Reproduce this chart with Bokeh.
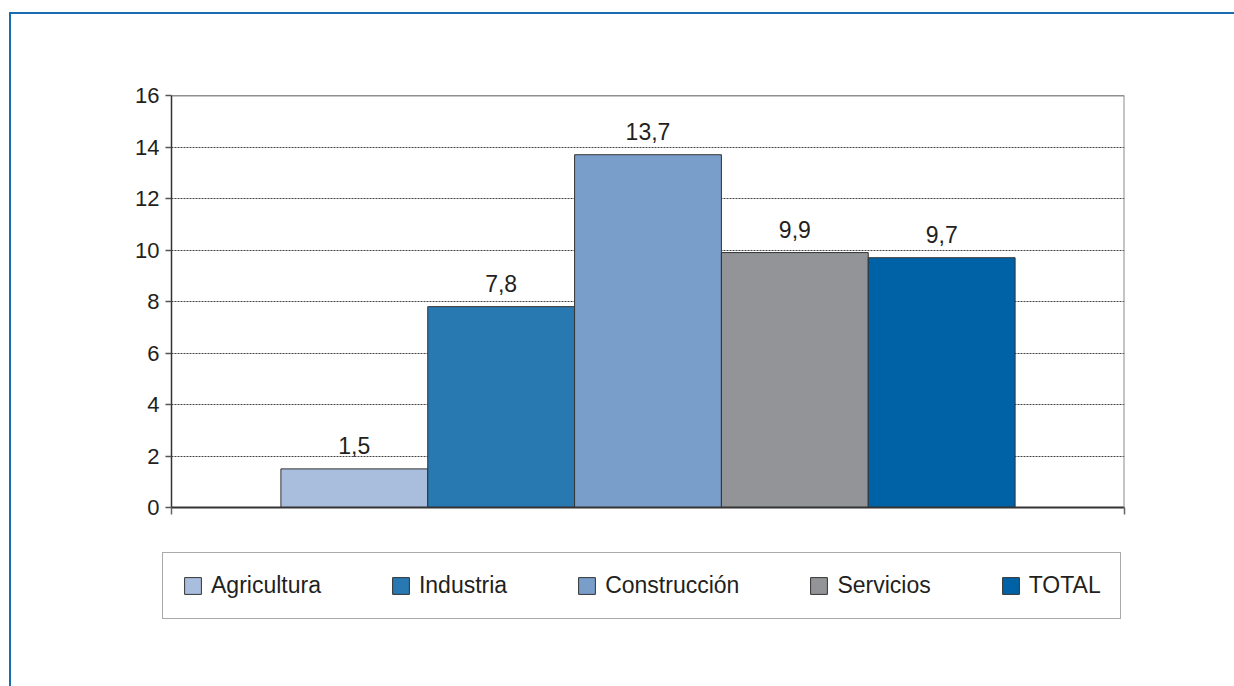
from bokeh.plotting import figure
from bokeh.layouts import column
from bokeh.models import (ColumnDataSource, Range1d, FixedTicker, Span, Legend, LegendItem)
from bokeh.core.properties import value
from bokeh.embed import file_html
from bokeh.resources import INLINE

# ---- data ----
categories = ["Agricultura", "Industria", "Construcción", "Servicios", "TOTAL"]
values = [1.5, 7.8, 13.7, 9.9, 9.7]
colors = ["#a9bedd", "#2878b1", "#789ec9", "#929497", "#0062a6"]
y_ticks = [0, 2, 4, 6, 8, 10, 12, 14, 16]

FONT = "Liberation Sans"
TXT = "#231f20"
BLUE = "#1a6cb0"

xs = list(range(len(categories)))
labels = [f"{v:.1f}".replace(".", ",") for v in values]

x_lo, x_hi = -1.245, len(categories) - 1 + 1.245

# ---------------- main chart ----------------
p = figure(frame_width=953, frame_height=412,
           min_border_left=171, min_border_right=110,
           min_border_top=95, min_border_bottom=33,
           x_range=Range1d(x_lo, x_hi), y_range=Range1d(0, 16),
           output_backend="svg", toolbar_location=None,
           background_fill_color="white", border_fill_color=None)
p.outline_line_color = None

p.yaxis.ticker = FixedTicker(ticks=y_ticks)
p.yaxis.major_tick_out = 6
p.yaxis.major_tick_in = 0
p.yaxis.minor_tick_line_color = None
p.yaxis.major_label_standoff = 6
p.yaxis.axis_line_color = "#333333"
p.yaxis.axis_line_width = 1.5
p.yaxis.major_tick_line_color = "#555555"
p.yaxis.major_tick_line_width = 1.5
p.yaxis.major_label_text_font = FONT
p.yaxis.major_label_text_font_size = "22px"
p.yaxis.major_label_text_color = TXT

p.xaxis.ticker = FixedTicker(ticks=[x_lo, x_hi])
p.xaxis.major_tick_out = 7
p.xaxis.major_tick_in = 0
p.xaxis.minor_tick_line_color = None
p.xaxis.major_label_text_color = None
p.xaxis.major_label_text_font_size = "2px"
p.xaxis.major_label_standoff = 0
p.xaxis.axis_line_color = "#333333"
p.xaxis.axis_line_width = 2
p.xaxis.major_tick_line_color = "#666666"
p.xaxis.major_tick_line_width = 1.5

p.xgrid.visible = False
p.ygrid.ticker = FixedTicker(ticks=y_ticks[1:-1])
p.ygrid.grid_line_color = "#444444"
p.ygrid.grid_line_dash = "2 1"
p.ygrid.grid_line_width = 1

p.add_layout(Span(location=16, dimension="width", line_color="#222222", line_width=1.5))
p.add_layout(Span(location=x_hi, dimension="height", line_color="#8c8c8c", line_width=2))

for i, (name, v, c) in enumerate(zip(categories, values, colors)):
    p.vbar(x=[xs[i]], top=[v], bottom=0, width=1.0, fill_color=c,
           line_color="#333333", line_width=1)

src = ColumnDataSource(dict(x=xs, y=values, t=labels))
p.text(x="x", y="y", text="t", source=src, text_align="center",
       text_baseline="bottom", y_offset=-15,
       text_font=value(FONT), text_font_size="23px", text_color=TXT)

# ---------------- legend strip ----------------
p2 = figure(frame_width=1234, frame_height=146,
            min_border_left=0, min_border_right=0, min_border_top=0, min_border_bottom=0,
            x_range=Range1d(100, 101), y_range=Range1d(100, 101),
            x_axis_location=None, y_axis_location=None,
            output_backend="svg", toolbar_location=None,
            background_fill_color=None, border_fill_color=None)
p2.outline_line_color = None
p2.grid.visible = False

items = []
for i, (name, v, c) in enumerate(zip(categories, values, colors)):
    r = p2.vbar(x=[xs[i]], top=[v], bottom=0, width=1.0, fill_color=c,
                line_color="#333333", line_width=1)
    items.append(LegendItem(label=name, renderers=[r]))

legend = Legend(items=items, orientation="horizontal", location=(162, 67),
                glyph_width=21, glyph_height=21, label_standoff=8,
                spacing=69, padding=19, margin=0,
                label_text_font=FONT, label_text_font_size="23px",
                label_text_color=TXT,
                border_line_color="#555555", border_line_width=1.5,
                background_fill_color="white", background_fill_alpha=1)
p2.add_layout(legend, "center")

layout = column(p, p2, spacing=0, styles={
    "background": (f"linear-gradient({BLUE}, {BLUE}) 9px 12px / 1300px 2px no-repeat, "
                   f"linear-gradient({BLUE}, {BLUE}) 9px 12px / 2px 700px no-repeat, #ffffff")
})

open("out.html", "w").write(file_html(layout, INLINE))
